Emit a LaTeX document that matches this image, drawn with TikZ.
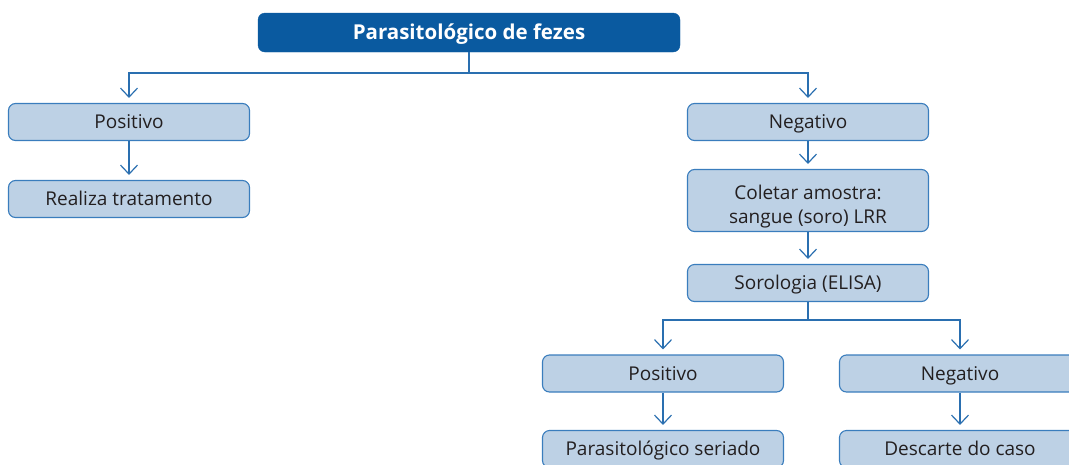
\documentclass[tikz,border=0pt]{standalone}
\usepackage{fontspec}
\setmainfont{Open Sans}
\usetikzlibrary{arrows.meta}
\definecolor{topblue}{HTML}{0A5AA0}
\definecolor{boxfill}{HTML}{BDD1E5}
\definecolor{boxline}{HTML}{3A7DBD}
\definecolor{txt}{HTML}{231F20}
\definecolor{conn}{HTML}{2A6FB0}
\tikzset{
  topbox/.style={draw=topblue, fill=topblue, rounded corners=7pt, minimum width=422pt, minimum height=39pt, text=white, font=\fontsize{20.5}{24}\selectfont\bfseries, inner sep=0pt, text height=14.6pt, text depth=0pt},
  flowbox/.style={draw=boxline, fill=boxfill, line width=1.1pt, rounded corners=7pt, minimum width=241pt, minimum height=37pt, text=txt, font=\fontsize{19}{24}\selectfont, align=center, inner sep=0pt},
  onebox/.style={flowbox, text height=13.6pt, text depth=0pt},
  arr/.style={conline, -{Straight Barb[length=9pt, width=17pt, line width=1.2pt]}, shorten >=5pt},
  conline/.style={draw=conn, line width=1.2pt}
}
\begin{document}
\begin{tikzpicture}[x=1pt, y=-1pt]
\useasboundingbox (0,0) rectangle (1069,464);
\clip (0,0) rectangle (1069,464);
\node[topbox] (top) at (469,32.5) {Parasitológico de fezes};
\node[onebox] (pos1) at (129,122) {Positivo};
\node[onebox] (trat) at (129,199) {Realiza tratamento};
\node[onebox] (neg1) at (808,122) {Negativo};
\node[flowbox, minimum height=62pt] (col) at (808,200.5) {\rule{0pt}{27pt}Coletar amostra:\\sangue (soro) LRR};
\node[onebox] (sor) at (808,283) {Sorologia (ELISA)};
\node[onebox] (pos2) at (663,373.5) {Positivo};
\node[onebox] (neg2) at (960,373.5) {Negativo};
\node[onebox] (ser) at (663,449) {Parasitológico seriado};
\node[onebox] (desc) at (960,449) {Descarte do caso};
\coordinate (j1) at (469,73);
\coordinate (j2) at (808,320);
\draw[conline] (top.south) -- (j1);
\draw[arr] (j1) -| (pos1.north);
\draw[arr] (j1) -| (neg1.north);
\draw[arr] (pos1.south) -- (trat.north);
\draw[arr] (neg1.south) -- (col.north);
\draw[arr] (col.south) -- (sor.north);
\draw[conline] (sor.south) -- (j2);
\draw[arr] (j2) -| (pos2.north);
\draw[arr] (j2) -| (neg2.north);
\draw[arr] (pos2.south) -- (ser.north);
\draw[arr] (neg2.south) -- (desc.north);
\end{tikzpicture}
\end{document}
